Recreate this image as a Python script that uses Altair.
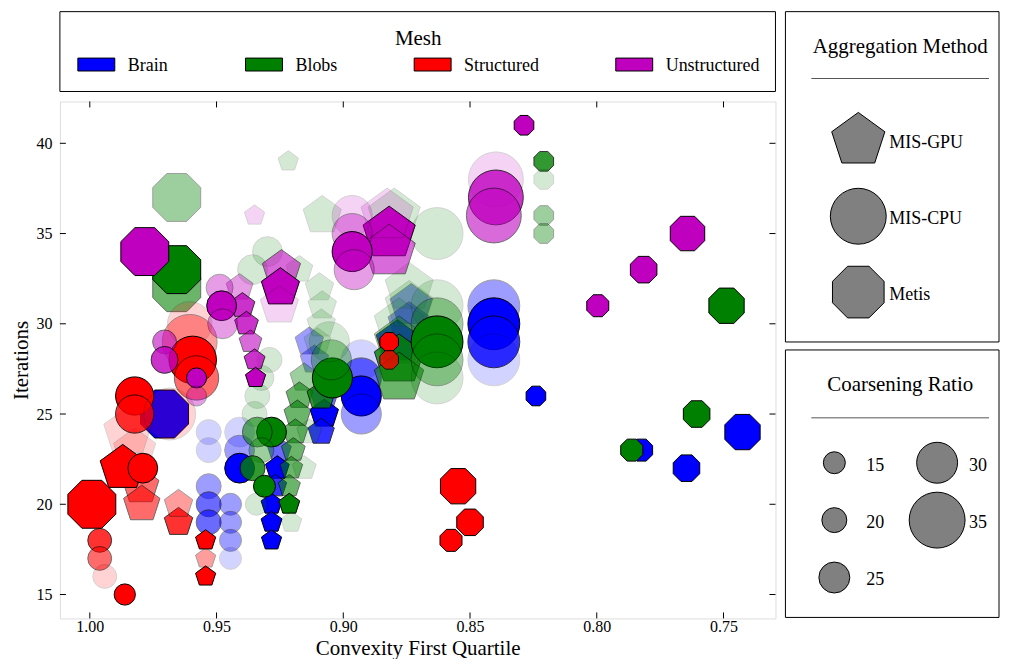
import altair as alt
import pandas as pd

FONT = "Liberation Serif"

MESHES = ["Brain", "Blobs", "Structured", "Unstructured"]
MESH_COLORS = ["#0000ff", "#008000", "#ff0000", "#bf00bf"]
METHODS = ["MIS-GPU", "MIS-CPU", "Metis"]
RATIO_KEYS = [15, 20, 25, 30, 35]

X_TICKS = [1.00, 0.95, 0.90, 0.85, 0.80, 0.75]
Y_TICKS = [15, 20, 25, 30, 35, 40]

# ---- Brain ----
BRAIN_GPU_X = [0.9252, 0.9260, 0.9268, 0.9283, 0.9283, 0.9283, 0.9075, 0.9075, 0.9087, 0.9134, 0.9114, 0.8732, 0.8740, 0.8787]
BRAIN_GPU_Y = [23, 22, 21, 20, 19, 18, 26, 25, 24, 29, 28, 31, 30, 29]
BRAIN_GPU_R = [20, 20, 18, 15, 15, 14, 24, 24, 22, 24, 24, 31, 31, 31]
BRAIN_GPU_L = [3, 5, 4, 5, 5, 5, 3, 5, 4, 2, 2, 2, 2, 4]

BRAIN_CPU_X = [0.9531, 0.9531, 0.9531, 0.9531, 0.9531, 0.9445, 0.9445, 0.9445, 0.9445, 0.9409, 0.9409, 0.9409,
               0.8929, 0.8929, 0.8929, 0.8929, 0.8406, 0.8406, 0.8406, 0.8406]
BRAIN_CPU_Y = [24, 23, 21, 20, 19, 20, 19, 18, 17, 24, 23, 22, 28, 27, 26, 25, 31, 30, 29, 28]
BRAIN_CPU_R = [20, 20, 20, 20, 20, 15, 15, 15, 15, 24, 24, 24, 29.5, 29.5, 29.5, 29.5, 33.5, 33.5, 33.5, 33.5]
BRAIN_CPU_L = [1, 1, 2, 3, 3, 2, 2, 2, 1, 1, 2, 5, 1, 3, 5, 2, 2, 5, 4, 1]

BRAIN_METIS_X = [0.8240, 0.7823, 0.7646, 0.7425, 0.9705]
BRAIN_METIS_Y = [26, 23, 22, 24, 25]
BRAIN_METIS_R = [14, 18, 23, 28.5, 33.5]
BRAIN_METIS_L = [5, 5, 5, 5, 5]

# ---- Blobs ----
BLOBS_GPU_X = [0.9217, 0.9083, 0.8799, 0.9173, 0.9094, 0.9083, 0.9087, 0.9102, 0.8740, 0.8740,
               0.9154, 0.9173, 0.9181, 0.9189, 0.9197, 0.9205, 0.9213, 0.9213, 0.9205,
               0.9134, 0.9154, 0.9055, 0.9087, 0.8780, 0.8780, 0.8780, 0.8780]
BLOBS_GPU_Y = [39, 36, 36, 33, 32, 31, 30, 29, 32, 31, 27, 26, 25, 24, 23, 22, 21, 20, 19, 24, 22, 27, 26, 30, 29, 28, 27]
BLOBS_GPU_R = [14, 29.5, 34.6, 22.5, 24, 24, 24, 22.5, 33, 33, 24, 22.5, 22.5, 21, 20, 18, 17, 15, 15,
               21, 20, 24, 24, 33.5, 33.5, 33.5, 33.5]
BLOBS_GPU_L = [1, 1, 1, 1, 1, 1, 1, 1, 1, 1, 2, 3, 3, 3, 3, 3, 3, 5, 1, 1, 1, 4, 4, 1, 2, 4, 3]

BLOBS_CPU_X = [0.9299, 0.9358, 0.9291, 0.9323, 0.9339, 0.9350, 0.9283, 0.9339, 0.9323, 0.9358, 0.9311, 0.9343,
               0.9043, 0.9047, 0.9055, 0.8630, 0.8630, 0.8630, 0.8630, 0.8630, 0.8630]
BLOBS_CPU_Y = [34, 33, 28, 27, 26, 25, 24, 24, 23, 22, 21, 20, 27, 28, 29, 35, 31, 30, 29, 28, 27]
BLOBS_CPU_R = [24, 24, 20, 20, 20, 20, 24, 24, 20, 20, 15, 15, 29.5, 29.5, 29.5, 33.5, 33.5, 33.5, 33.5, 33.5, 33.5]
BLOBS_CPU_L = [1, 1, 1, 1, 1, 1, 5, 3, 2, 4, 5, 1, 5, 2, 1, 1, 1, 2, 5, 2, 1]

BLOBS_METIS_X = [0.8209, 0.8209, 0.8209, 0.8209, 0.7862, 0.7606, 0.7488, 0.9657, 0.9657, 0.9657]
BLOBS_METIS_Y = [39, 38, 36, 35, 23, 25, 31, 37, 32, 33]
BLOBS_METIS_R = [14, 14, 14, 14, 18, 23, 28.5, 33.5, 33.5, 33.5]
BLOBS_METIS_L = [4, 1, 2, 2, 5, 5, 5, 2, 3, 5]

# ---- Structured ----
STRUCT_GPU_X = [0.9543, 0.9543, 0.9543, 0.9650, 0.9650, 0.9850, 0.9823, 0.9799, 0.9795, 0.9870]
STRUCT_GPU_Y = [16, 17, 18, 19, 20, 24, 23, 21, 20, 22]
STRUCT_GPU_R = [14, 14, 14, 24, 24, 33, 31, 28.5, 28.5, 32]
STRUCT_GPU_L = [5, 2, 5, 4, 2, 1, 1, 3, 3, 5]

STRUCT_CPU_X = [0.9862, 0.9961, 0.9961, 0.9941, 0.9823, 0.9823, 0.9791, 0.9685, 0.9606, 0.9606, 0.9594, 0.9579]
STRUCT_CPU_Y = [15, 18, 17, 16, 26, 25, 22, 25, 30, 29, 28, 27]
STRUCT_CPU_R = [14, 18, 18, 18, 28.5, 28.5, 24, 33.5, 31, 34.6, 32, 31]
STRUCT_CPU_L = [5, 4, 3, 1, 5, 4, 5, 1, 1, 2, 5, 3]

STRUCT_METIS_X = [0.8547, 0.8500, 0.8575, 0.8819, 0.8819, 0.9992]
STRUCT_METIS_Y = [21, 19, 18, 29, 28, 20]
STRUCT_METIS_R = [28.5, 23, 18, 12.5, 12.5, 33.5]
STRUCT_METIS_L = [5, 5, 5, 5, 4, 5]

# ---- Unstructured ----
UNSTR_GPU_X = [0.9409, 0.9398, 0.9382, 0.9366, 0.9350, 0.9346, 0.9244, 0.9248, 0.9252, 0.9350, 0.8819, 0.8819, 0.8827]
UNSTR_GPU_Y = [32, 31, 30, 29, 28, 27, 33, 32, 31, 36, 35, 34, 36]
UNSTR_GPU_R = [22.5, 21, 20, 18, 15, 14, 29.5, 29.5, 29.5, 14, 34.6, 34.6, 34.6]
UNSTR_GPU_L = [2, 4, 4, 3, 4, 5, 3, 5, 1, 1, 5, 3, 1]

UNSTR_CPU_X = [0.9705, 0.9705, 0.9579, 0.9579, 0.9488, 0.9480, 0.9476, 0.8965, 0.8965, 0.8965, 0.8957,
               0.8398, 0.8398, 0.8406]
UNSTR_CPU_Y = [29, 28, 27, 26, 32, 31, 30, 36, 35, 34, 33, 38, 37, 36]
UNSTR_CPU_R = [18, 21.5, 12.5, 12.5, 21.5, 24, 24, 29.5, 29.5, 29.5, 29.5, 34.6, 34.6, 34.6]
UNSTR_CPU_L = [3, 4, 5, 2, 2, 5, 2, 1, 2, 5, 2, 1, 4, 3]

UNSTR_METIS_X = [0.8287, 0.7996, 0.7815, 0.7642, 0.9783]
UNSTR_METIS_Y = [41, 31, 33, 35, 34]
UNSTR_METIS_R = [14, 18, 23, 28, 33.5]
UNSTR_METIS_L = [5, 5, 5, 5, 5]

GROUPS = [
    ("Brain", "MIS-GPU", BRAIN_GPU_X, BRAIN_GPU_Y, BRAIN_GPU_R, BRAIN_GPU_L),
    ("Brain", "MIS-CPU", BRAIN_CPU_X, BRAIN_CPU_Y, BRAIN_CPU_R, BRAIN_CPU_L),
    ("Brain", "Metis", BRAIN_METIS_X, BRAIN_METIS_Y, BRAIN_METIS_R, BRAIN_METIS_L),
    ("Blobs", "MIS-GPU", BLOBS_GPU_X, BLOBS_GPU_Y, BLOBS_GPU_R, BLOBS_GPU_L),
    ("Blobs", "MIS-CPU", BLOBS_CPU_X, BLOBS_CPU_Y, BLOBS_CPU_R, BLOBS_CPU_L),
    ("Blobs", "Metis", BLOBS_METIS_X, BLOBS_METIS_Y, BLOBS_METIS_R, BLOBS_METIS_L),
    ("Structured", "MIS-GPU", STRUCT_GPU_X, STRUCT_GPU_Y, STRUCT_GPU_R, STRUCT_GPU_L),
    ("Structured", "MIS-CPU", STRUCT_CPU_X, STRUCT_CPU_Y, STRUCT_CPU_R, STRUCT_CPU_L),
    ("Structured", "Metis", STRUCT_METIS_X, STRUCT_METIS_Y, STRUCT_METIS_R, STRUCT_METIS_L),
    ("Unstructured", "MIS-GPU", UNSTR_GPU_X, UNSTR_GPU_Y, UNSTR_GPU_R, UNSTR_GPU_L),
    ("Unstructured", "MIS-CPU", UNSTR_CPU_X, UNSTR_CPU_Y, UNSTR_CPU_R, UNSTR_CPU_L),
    ("Unstructured", "Metis", UNSTR_METIS_X, UNSTR_METIS_Y, UNSTR_METIS_R, UNSTR_METIS_L),
]

rows = []
for mesh, method, xs, ys, rs, ls in GROUPS:
    for x, y, r, l in zip(xs, ys, rs, ls):
        rows.append({"mesh": mesh, "method": method, "convexity": x,
                     "iterations": y, "ratio": r, "level": l})
df = pd.DataFrame(rows)

# ---- shapes & scales ----
PENTAGON = "M0,-1L0.9511,-0.309L0.5878,0.809L-0.5878,0.809L-0.9511,-0.309Z"
OCTAGON = ("M0.9239,0.3827L0.3827,0.9239L-0.3827,0.9239L-0.9239,0.3827"
           "L-0.9239,-0.3827L-0.3827,-0.9239L0.3827,-0.9239L0.9239,-0.3827Z")
SWATCH = "M-1,-0.35H1V0.35H-1Z"

W, H = 717, 518
x_scale = alt.Scale(domain=[0.7295, 1.0118], reverse=True, nice=False, zero=False)
y_scale = alt.Scale(domain=[13.675, 42.318], nice=False, zero=False)
color_scale = alt.Scale(domain=MESHES, range=MESH_COLORS)
shape_scale = alt.Scale(domain=METHODS, range=[PENTAGON, "circle", OCTAGON])
size_scale = alt.Scale(type="linear", domain=[10, 15, 20, 25, 30, 35, 40],
                       range=[324, 484, 625, 961, 1681, 3136, 4096])
opacity_scale = alt.Scale(type="linear", domain=[1, 2, 3, 4, 5],
                          range=[0.17, 0.38, 0.58, 0.8, 1.0])

x_axis = alt.Axis(values=X_TICKS, format=".2f", title="Convexity First Quartile",
                  ticks=False, domain=False, grid=False, labelFlush=False,
                  labelFont=FONT, labelFontSize=16, labelColor="black", labelPadding=0.5,
                  titleFont=FONT, titleFontSize=21, titleFontWeight="normal",
                  titleColor="black", titleBaseline="alphabetic", titleY=35.8)
y_axis = alt.Axis(values=Y_TICKS, format="d", title="Iterations",
                  ticks=False, domain=False, grid=False, labelFlush=False,
                  labelFont=FONT, labelFontSize=16, labelColor="black", labelPadding=8,
                  titleFont=FONT, titleFontSize=21, titleFontWeight="normal",
                  titleColor="black", titleBaseline="alphabetic", titleX=-32)

points = alt.Chart(df).mark_point(filled=True, stroke="black", strokeWidth=1).encode(
    x=alt.X("convexity:Q", scale=x_scale, axis=x_axis),
    y=alt.Y("iterations:Q", scale=y_scale, axis=y_axis),
    color=alt.Color("mesh:N", scale=color_scale, legend=None),
    shape=alt.Shape("method:N", scale=shape_scale, legend=None),
    size=alt.Size("ratio:Q", scale=size_scale, legend=None),
    opacity=alt.Opacity("level:Q", scale=opacity_scale, legend=None),
)

# inner ticks on all four sides
xt_df = pd.DataFrame({"v": X_TICKS})
yt_df = pd.DataFrame({"v": Y_TICKS})
TL = 6
xt_bottom = alt.Chart(xt_df).mark_rule(color="black", strokeWidth=1).encode(
    x=alt.X("v:Q", scale=x_scale, axis=None), y=alt.value(H), y2=alt.value(H - TL))
xt_top = alt.Chart(xt_df).mark_rule(color="black", strokeWidth=1).encode(
    x=alt.X("v:Q", scale=x_scale, axis=None), y=alt.value(0), y2=alt.value(TL))
yt_left = alt.Chart(yt_df).mark_rule(color="black", strokeWidth=1).encode(
    y=alt.Y("v:Q", scale=y_scale, axis=None), x=alt.value(0), x2=alt.value(TL))
yt_right = alt.Chart(yt_df).mark_rule(color="black", strokeWidth=1).encode(
    y=alt.Y("v:Q", scale=y_scale, axis=None), x=alt.value(W), x2=alt.value(W - TL))

one = pd.DataFrame({"k": [0]})


def box(x1, x2, y1, y2):
    return alt.Chart(one).mark_rect(fillOpacity=0, stroke="black", strokeWidth=1).encode(
        x=alt.value(x1), x2=alt.value(x2), y=alt.value(y1), y2=alt.value(y2))


def title_text(label, x, y):
    return alt.Chart(one).mark_text(font=FONT, fontSize=21, color="black").encode(
        x=alt.value(x), y=alt.value(y), text=alt.value(label))


def hrule(x1, x2, y):
    return alt.Chart(one).mark_rule(color="#555555", strokeWidth=1).encode(
        x=alt.value(x1), x2=alt.value(x2), y=alt.value(y))


# ---- Mesh legend (above plot) ----
mesh_df = pd.DataFrame({"mesh": MESHES, "slot": list(range(len(MESHES)))})
mesh_x = alt.X("slot:Q", scale=alt.Scale(domain=[0, 1, 2, 3], range=[36.5, 204.5, 373.5, 575.5]), axis=None)
mesh_sw = alt.Chart(mesh_df).mark_point(filled=True, shape=SWATCH, size=1369, stroke="black",
                                        strokeWidth=1, opacity=1).encode(
    x=mesh_x, y=alt.value(-37),
    color=alt.Color("mesh:N", scale=color_scale, legend=None))
mesh_lab = alt.Chart(mesh_df).mark_text(font=FONT, fontSize=18, color="black", align="left",
                                        baseline="middle", dx=31.5).encode(
    x=mesh_x, y=alt.value(-36), text="mesh:N")

# ---- Aggregation method legend ----
agg_df = pd.DataFrame({"method": METHODS, "slot": list(range(len(METHODS)))})
agg_y = alt.Y("slot:Q", scale=alt.Scale(domain=[0, 2], range=[39, 191]), axis=None)
agg_sym = alt.Chart(agg_df).mark_point(filled=True, fill="#808080", stroke="black", strokeWidth=1,
                                       opacity=1, size=3136).encode(
    x=alt.value(800), y=agg_y,
    shape=alt.Shape("method:N", scale=shape_scale, legend=None))
agg_lab = alt.Chart(agg_df).mark_text(font=FONT, fontSize=18, color="black", align="left",
                                      baseline="middle", dy=3).encode(
    x=alt.value(831), y=agg_y, text="method:N")

# ---- Coarsening ratio legend ----
ratio_df = pd.DataFrame({"ratio": RATIO_KEYS})
ratio_df["col"] = [i // 3 for i in range(len(RATIO_KEYS))]
ratio_df["row"] = [i % 3 for i in range(len(RATIO_KEYS))]
ratio_x = alt.X("col:Q", scale=alt.Scale(domain=[0, 1], range=[776, 879]), axis=None)
ratio_y = alt.Y("row:Q", scale=alt.Scale(domain=[0, 2], range=[362, 477]), axis=None)
ratio_sym = alt.Chart(ratio_df).mark_point(filled=True, fill="#808080", stroke="black", strokeWidth=1,
                                           opacity=1, shape="circle").encode(
    x=ratio_x, y=ratio_y,
    size=alt.Size("ratio:Q", scale=size_scale, legend=None))
ratio_lab = alt.Chart(ratio_df).mark_text(font=FONT, fontSize=18, color="black", align="left",
                                          baseline="middle", dx=32, dy=3).encode(
    x=ratio_x, y=ratio_y, text=alt.Text("ratio:Q", format="d"))

chart = alt.layer(
    points, xt_bottom, xt_top, yt_left, yt_right,
    box(0, W, -90, -10), title_text("Mesh", 359, -63), mesh_sw, mesh_lab,
    box(727, 941, -90, 241), title_text("Aggregation Method", 842, -55), hrule(753, 931, -23),
    agg_sym, agg_lab,
    box(727, 941, 249, 517), title_text("Coarsening Ratio", 842, 284), hrule(753, 931, 317),
    ratio_sym, ratio_lab,
).resolve_scale(
    x="independent", y="independent"
).properties(
    width=W, height=H,
    autosize=alt.AutoSizeParams(type="none"),
    padding={"left": 52, "top": 93, "right": 226, "bottom": 40},
).configure_view(
    stroke="black", strokeWidth=1
).configure(font=FONT)

chart.save("out.html", embed_options={"renderer": "svg", "actions": False})
